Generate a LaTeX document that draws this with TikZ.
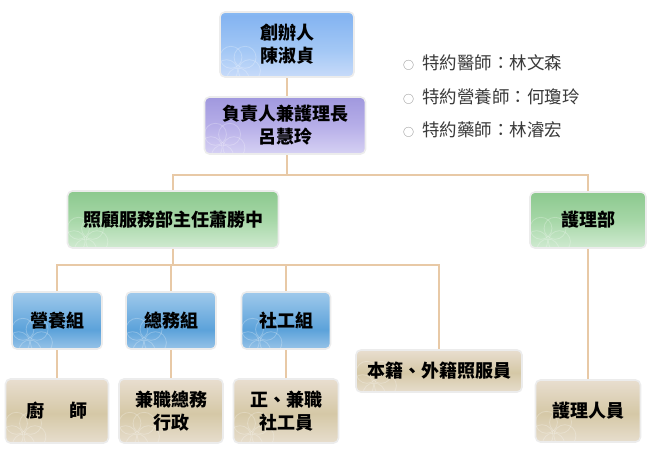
\documentclass[tikz,border=0pt]{standalone}
\usepackage{fontspec}
\setmainfont{Noto Sans CJK TC}
\usetikzlibrary{backgrounds}
\definecolor{lineC}{HTML}{E8C9A6}
\definecolor{bordC}{HTML}{ECECEC}
\definecolor{listC}{HTML}{3A3A3A}
\definecolor{fA0}{HTML}{F5F3FF}\definecolor{fA1}{HTML}{A4C8F5}\definecolor{fA2}{HTML}{84B4F1}\definecolor{fA3}{HTML}{A8E6FC}
\definecolor{pA0}{HTML}{F6F4FF}\definecolor{pA1}{HTML}{B6AEE8}\definecolor{pA2}{HTML}{8A82D4}
\definecolor{gA0}{HTML}{FAFDFA}\definecolor{gA1}{HTML}{A6D7A7}\definecolor{gA2}{HTML}{72BA76}
\definecolor{bA0}{HTML}{EEF5FC}\definecolor{bA1}{HTML}{5CA2DA}\definecolor{bA2}{HTML}{D2E7F8}
\definecolor{tA0}{HTML}{FAF5F8}\definecolor{tA1}{HTML}{D5C8A6}\definecolor{tA2}{HTML}{FAF2F6}
\pgfdeclareverticalshading{shfounder}{100bp}{color(0bp)=(fA0); color(45bp)=(fA1); color(72bp)=(fA2); color(100bp)=(fA3)}
\pgfdeclareverticalshading{shpurple}{100bp}{color(0bp)=(pA0); color(50bp)=(pA1); color(100bp)=(pA2)}
\pgfdeclareverticalshading{shgreen}{100bp}{color(0bp)=(gA0); color(50bp)=(gA1); color(100bp)=(gA2)}
\pgfdeclareverticalshading{shblue}{100bp}{color(0bp)=(bA0); color(42bp)=(bA1); color(100bp)=(bA2)}
\pgfdeclareverticalshading{shtan}{100bp}{color(0bp)=(tA0); color(48bp)=(tA1); color(100bp)=(tA2)}
\tikzset{
  orgbox/.style={draw=bordC, line width=1.6pt, rounded corners=5pt, inner sep=0pt,
    align=center, text=black, font=\fontsize{18}{23}\selectfont\bfseries,
    path picture={\foreach \a in {0,72,144,216,288}{\draw[white,opacity=.25,line width=.8pt]
      ([shift={(18,-10)}]path picture bounding box.south west) ++(\a+90:12) circle (11);}}},
  conn/.style={draw=lineC, line width=2pt},
  listitem/.style={anchor=west, inner sep=0pt, text=listC, font=\fontsize{17.5}{20}\selectfont}
}
\begin{document}
\begin{tikzpicture}[x=1pt,y=-1pt]
\useasboundingbox (0,0) rectangle (650,451);
% nodes
\node[orgbox, shading=shfounder, minimum width=134pt, minimum height=65pt] (founder) at (287,44.5) {創辦人\\陳淑貞};
\node[orgbox, shading=shpurple, minimum width=161pt, minimum height=57pt] (head) at (285,125.5) {負責人兼護理長\\呂慧玲};
\node[orgbox, shading=shgreen, minimum width=211pt, minimum height=57pt] (care) at (173,219.5) {照顧服務部主任蕭勝中};
\node[orgbox, shading=shgreen, minimum width=116pt, minimum height=56pt] (ndept) at (588,220) {護理部};
\node[orgbox, shading=shblue, minimum width=90pt, minimum height=57pt] (nutr) at (57,320.5) {營養組};
\node[orgbox, shading=shblue, minimum width=90pt, minimum height=57pt] (gen) at (171,320.5) {總務組};
\node[orgbox, shading=shblue, minimum width=89pt, minimum height=57pt] (social) at (286,320.5) {社工組};
\node[orgbox, shading=shtan, minimum width=103pt, minimum height=64pt] (chef) at (57,411) {廚\hspace{1.4em}師};
\node[orgbox, shading=shtan, minimum width=104pt, minimum height=64pt] (part) at (171,411) {兼職總務\\行政};
\node[orgbox, shading=shtan, minimum width=105pt, minimum height=64pt] (sw) at (286,411) {正、兼職\\社工員};
\node[orgbox, shading=shtan, minimum width=166pt, minimum height=42pt] (foreign) at (439,371) {本籍、外籍照服員};
\node[orgbox, shading=shtan, minimum width=105pt, minimum height=62pt] (nurses) at (588,411) {護理人員};
% list
\node[listitem] (l1) at (403,63) {{\fontsize{11}{11}\selectfont\color{black!50}○}\hspace{8pt}特約醫師：林文森};
\node[listitem] (l2) at (403,97) {{\fontsize{11}{11}\selectfont\color{black!50}○}\hspace{8pt}特約營養師：何瓊玲};
\node[listitem] (l3) at (403,130) {{\fontsize{11}{11}\selectfont\color{black!50}○}\hspace{8pt}特約藥師：林濬宏};
% connectors
\coordinate (bar1) at (287,175);
\coordinate (bar2) at (173,265);
\begin{scope}[on background layer]
\fill[white] (0,0) rectangle (650,451);
\draw[conn] (founder.center) -- (founder.center |- head.center);
\draw[conn] (bar1 |- head.center) -- (bar1);
\draw[conn] (care) |- (bar1) -| (ndept);
\draw[conn] (care) -- (bar2);
\draw[conn] (nutr) |- (bar2) -| (foreign);
\draw[conn] (gen.center) -- (gen.center |- bar2);
\draw[conn] (social) |- (bar2);
\draw[conn] (nutr) -- (chef);
\draw[conn] (gen) -- (part);
\draw[conn] (social) -- (sw);
\draw[conn] (ndept) -- (nurses);
\end{scope}
\end{tikzpicture}
\end{document}
